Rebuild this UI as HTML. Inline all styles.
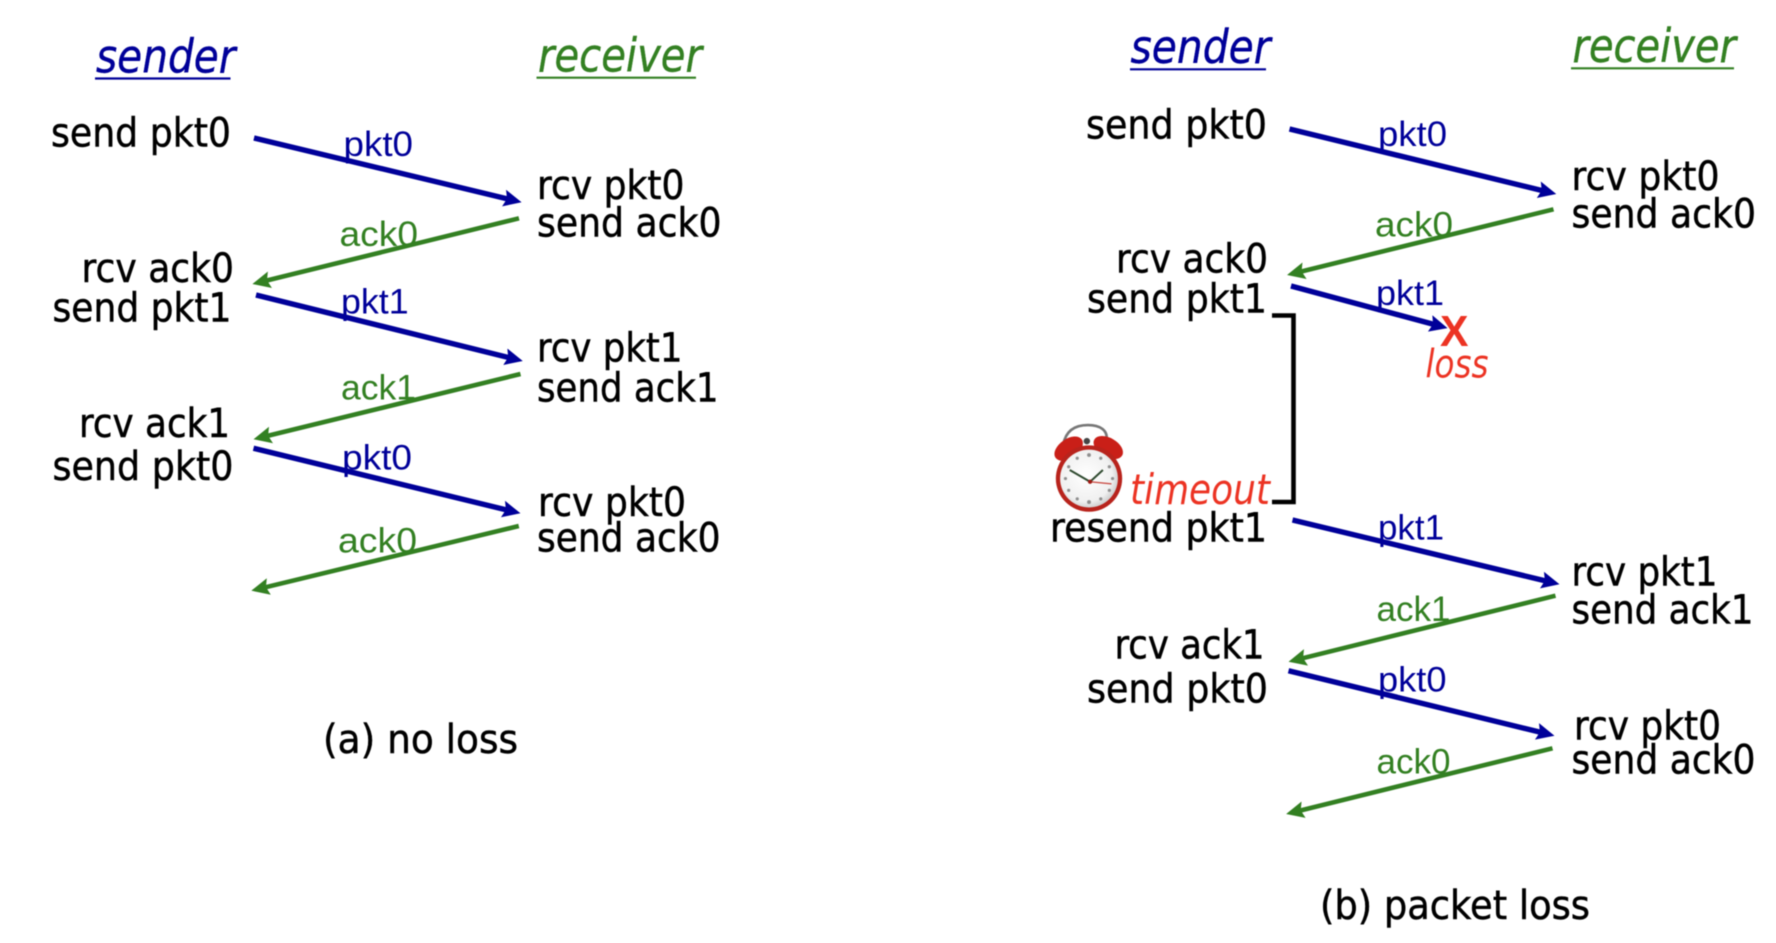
<!DOCTYPE html>
<html><head><meta charset="utf-8"><style>
html,body{margin:0;padding:0;background:#fff;width:1776px;height:943px;overflow:hidden}
svg{display:block;filter:blur(.6px)}
.t{font:40px "DejaVu Sans",sans-serif;fill:#000;stroke:#000;stroke-width:.5}
.h{font:italic 46px "DejaVu Sans",sans-serif;stroke-width:.4}
.l{font:35px "Liberation Sans",Arial,sans-serif}
.b{fill:#000099}.g{fill:#338022}.r{fill:#ec3323}
.h.b{stroke:#000099}.h.g{stroke:#338022}
.lb{stroke:#000099;stroke-width:5.4;marker-end:url(#mb);fill:none}
.lg{stroke:#338022;stroke-width:4.6;marker-end:url(#mg);fill:none}
</style></head><body>
<svg width="1776" height="943" viewBox="0 0 1776 943" xmlns="http://www.w3.org/2000/svg">
<defs>
<marker id="mb" markerUnits="userSpaceOnUse" markerWidth="20" markerHeight="20" refX="10" refY="9" orient="auto"><path d="M0,0.5 L18,9 L0,17.5 L3,9Z" fill="#000099"/></marker>
<marker id="mg" markerUnits="userSpaceOnUse" markerWidth="20" markerHeight="20" refX="10" refY="9" orient="auto"><path d="M0,0.5 L18,9 L0,17.5 L3,9Z" fill="#338022"/></marker>
<radialGradient id="face" cx="45%" cy="45%" r="60%"><stop offset="0" stop-color="#fff"/><stop offset=".75" stop-color="#f0f0f0"/><stop offset="1" stop-color="#c4c4c4"/></radialGradient>
</defs>

<!-- Left panel -->
<text class="h b" x="96" y="72.7" textLength="139.5" lengthAdjust="spacingAndGlyphs">sender</text>
<line x1="95" y1="78.5" x2="230.5" y2="78.5" stroke="#000099" stroke-width="2.2"/>
<text class="h g" x="538" y="71.7" textLength="164" lengthAdjust="spacingAndGlyphs">receiver</text>
<line x1="536.5" y1="77.7" x2="696" y2="77.7" stroke="#338022" stroke-width="2.2"/>

<text class="t" x="51" y="146.7" textLength="180" lengthAdjust="spacingAndGlyphs">send pkt0</text>
<text class="t" x="537" y="199" textLength="147.5" lengthAdjust="spacingAndGlyphs">rcv pkt0</text>
<text class="t" x="537" y="236.7" textLength="184.5" lengthAdjust="spacingAndGlyphs">send ack0</text>
<text class="t" x="81.5" y="282" textLength="152.5" lengthAdjust="spacingAndGlyphs">rcv ack0</text>
<text class="t" x="52.5" y="321.7" textLength="179" lengthAdjust="spacingAndGlyphs">send pkt1</text>
<text class="t" x="537" y="361.7" textLength="145.5" lengthAdjust="spacingAndGlyphs">rcv pkt1</text>
<text class="t" x="537" y="401.7" textLength="181.5" lengthAdjust="spacingAndGlyphs">send ack1</text>
<text class="t" x="79" y="437" textLength="151" lengthAdjust="spacingAndGlyphs">rcv ack1</text>
<text class="t" x="52.5" y="480" textLength="181" lengthAdjust="spacingAndGlyphs">send pkt0</text>
<text class="t" x="538" y="516" textLength="148" lengthAdjust="spacingAndGlyphs">rcv pkt0</text>
<text class="t" x="537" y="551.7" textLength="183.5" lengthAdjust="spacingAndGlyphs">send ack0</text>
<text class="t" x="323" y="753" textLength="195" lengthAdjust="spacingAndGlyphs">(a) no loss</text>

<g transform="translate(-2,0)">
<line class="lb" x1="256" y1="138" x2="515.8" y2="200.4"/>
<line class="lg" x1="521" y1="218.3" x2="262.2" y2="282.1"/>
<line class="lb" x1="258" y1="295" x2="517" y2="359.1"/>
<line class="lg" x1="522.5" y1="374" x2="263.3" y2="437.4"/>
<line class="lb" x1="255.5" y1="448.3" x2="514.7" y2="511.4"/>
<line class="lg" x1="520.8" y1="526" x2="261.1" y2="588.8"/>
</g>

<text class="l b" x="343.5" y="156" textLength="69.5" lengthAdjust="spacingAndGlyphs">pkt0</text>
<text class="l g" x="339.5" y="246" textLength="78.5" lengthAdjust="spacingAndGlyphs">ack0</text>
<text class="l b" x="341" y="313.3" textLength="67.6" lengthAdjust="spacingAndGlyphs">pkt1</text>
<text class="l g" x="341" y="399.3" textLength="75" lengthAdjust="spacingAndGlyphs">ack1</text>
<text class="l b" x="342" y="469.3" textLength="70" lengthAdjust="spacingAndGlyphs">pkt0</text>
<text class="l g" x="338" y="552.7" textLength="79" lengthAdjust="spacingAndGlyphs">ack0</text>

<!-- Right panel -->
<text class="h b" x="1130.5" y="63" textLength="140" lengthAdjust="spacingAndGlyphs">sender</text>
<line x1="1130" y1="69.3" x2="1266" y2="69.3" stroke="#000099" stroke-width="2.2"/>
<text class="h g" x="1572.5" y="62" textLength="163.5" lengthAdjust="spacingAndGlyphs">receiver</text>
<line x1="1571" y1="68.3" x2="1734" y2="68.3" stroke="#338022" stroke-width="2.2"/>

<text class="t" x="1086" y="138.7" textLength="181" lengthAdjust="spacingAndGlyphs">send pkt0</text>
<text class="t" x="1571.5" y="190" textLength="148" lengthAdjust="spacingAndGlyphs">rcv pkt0</text>
<text class="t" x="1571.5" y="227.7" textLength="184.5" lengthAdjust="spacingAndGlyphs">send ack0</text>
<text class="t" x="1116" y="272.7" textLength="152" lengthAdjust="spacingAndGlyphs">rcv ack0</text>
<text class="t" x="1087" y="312.7" textLength="180" lengthAdjust="spacingAndGlyphs">send pkt1</text>
<text class="t" x="1050" y="541.7" textLength="217" lengthAdjust="spacingAndGlyphs">resend pkt1</text>
<text class="t" x="1571.5" y="585.7" textLength="146" lengthAdjust="spacingAndGlyphs">rcv pkt1</text>
<text class="t" x="1571.5" y="623.3" textLength="182" lengthAdjust="spacingAndGlyphs">send ack1</text>
<text class="t" x="1114.5" y="658.3" textLength="150" lengthAdjust="spacingAndGlyphs">rcv ack1</text>
<text class="t" x="1087" y="702.7" textLength="181" lengthAdjust="spacingAndGlyphs">send pkt0</text>
<text class="t" x="1574" y="739.3" textLength="147" lengthAdjust="spacingAndGlyphs">rcv pkt0</text>
<text class="t" x="1571.5" y="773.3" textLength="184" lengthAdjust="spacingAndGlyphs">send ack0</text>
<text class="t" x="1320" y="919" textLength="270" lengthAdjust="spacingAndGlyphs">(b) packet loss</text>

<g transform="translate(-2.5,0)">
<line class="lb" x1="1292" y1="129" x2="1551" y2="192.1"/>
<line class="lg" x1="1556" y1="209.3" x2="1297.3" y2="273.1"/>
<line class="lb" x1="1293.5" y1="286" x2="1442.3" y2="326"/>
<line class="lb" x1="1295" y1="520" x2="1554.2" y2="582.4"/>
<line class="lg" x1="1558" y1="595.7" x2="1298.8" y2="659.8"/>
<line class="lb" x1="1291" y1="670.7" x2="1549.2" y2="733.8"/>
<line class="lg" x1="1555" y1="748.3" x2="1296.4" y2="812.1"/>
</g>

<text class="l b" x="1378" y="146" textLength="69" lengthAdjust="spacingAndGlyphs">pkt0</text>
<text class="l g" x="1375" y="236.7" textLength="78" lengthAdjust="spacingAndGlyphs">ack0</text>
<text class="l b" x="1376" y="305" textLength="68" lengthAdjust="spacingAndGlyphs">pkt1</text>
<text class="l b" x="1378" y="539.3" textLength="66" lengthAdjust="spacingAndGlyphs">pkt1</text>
<text class="l g" x="1376.5" y="621" textLength="74" lengthAdjust="spacingAndGlyphs">ack1</text>
<text class="l b" x="1378" y="691.7" textLength="68.5" lengthAdjust="spacingAndGlyphs">pkt0</text>
<text class="l g" x="1376.5" y="773.3" textLength="74" lengthAdjust="spacingAndGlyphs">ack0</text>

<text x="1440" y="346" textLength="28.5" lengthAdjust="spacingAndGlyphs" style="font:bold 44px 'Liberation Sans',Arial,sans-serif" class="r">X</text>
<text x="1425.5" y="377.3" textLength="63" lengthAdjust="spacingAndGlyphs" style="font:italic 39px 'DejaVu Sans',sans-serif" class="r">loss</text>
<text x="1130" y="504" textLength="140" lengthAdjust="spacingAndGlyphs" style="font:italic 42px 'DejaVu Sans',sans-serif" class="r">timeout</text>

<path d="M1277,315.5 H1298.5 V502 H1277" fill="none" stroke="#000" stroke-width="4.6" transform="translate(-5,0)"/>

<!-- alarm clock -->
<g transform="translate(1089 470) scale(1.07) translate(-1089 -470)">
<path d="M1065,446 C1068,430 1080,428 1088,428 C1098,428 1108,432 1105,444" fill="none" stroke="#777" stroke-width="2.5"/>
<ellipse cx="1070" cy="450" rx="15" ry="9" fill="#c91f18" transform="rotate(-35 1070 450)"/>
<ellipse cx="1107" cy="449" rx="15" ry="9" fill="#c91f18" transform="rotate(30 1107 449)"/>
<circle cx="1087" cy="443" r="3" fill="#444"/>
<ellipse cx="1089" cy="478" rx="31" ry="31" fill="#b8231c"/>
<ellipse cx="1089" cy="478" rx="27" ry="27" fill="url(#face)"/>
<g fill="#8f8f8f">
<circle cx="1089" cy="456" r="1.8"/><circle cx="1100" cy="459" r="1.5"/><circle cx="1108" cy="467" r="1.5"/><circle cx="1111" cy="478" r="1.5"/><circle cx="1108" cy="489" r="1.5"/><circle cx="1100" cy="497" r="1.5"/><circle cx="1089" cy="500" r="1.8"/><circle cx="1078" cy="497" r="1.5"/><circle cx="1070" cy="489" r="1.5"/><circle cx="1067" cy="478" r="1.5"/><circle cx="1070" cy="467" r="1.5"/><circle cx="1078" cy="459" r="1.5"/>
</g>
<path d="M1071,470 L1090,481 L1102,470" fill="none" stroke="#2f4a2f" stroke-width="1.8"/>
<path d="M1090,481 L1110,483" stroke="#c8443c" stroke-width="1.2"/>
<circle cx="1090" cy="481" r="2" fill="#a01a14"/>
</g>
</svg>
</body></html>
